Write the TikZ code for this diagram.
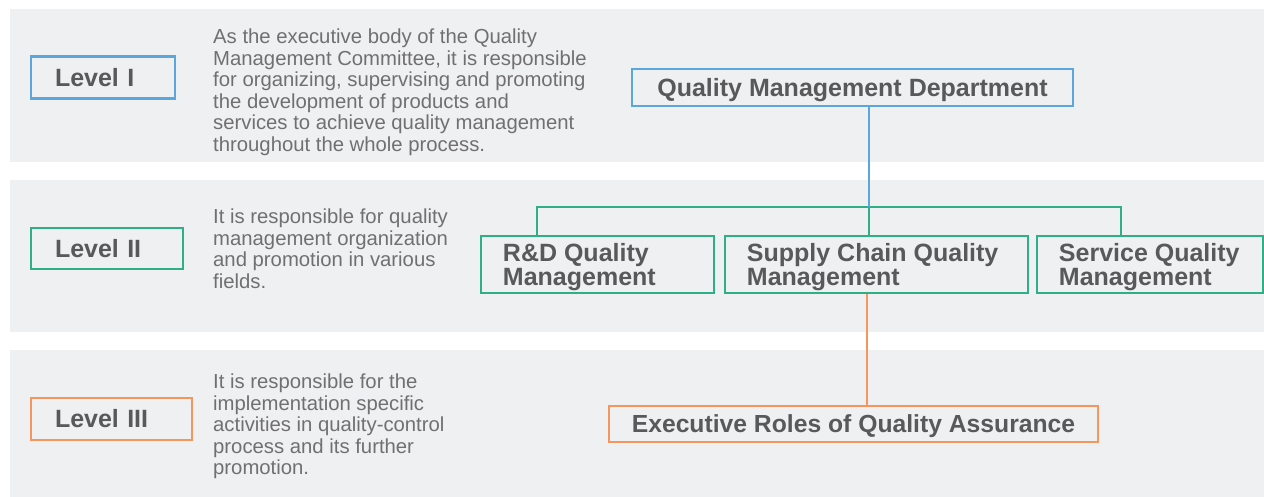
\documentclass[tikz,border=0pt]{standalone}
\usepackage{fontspec}
\usetikzlibrary{calc}
\setmainfont{Liberation Sans}
\definecolor{bandgray}{HTML}{EFF0F2}
\definecolor{lblue}{HTML}{5AA7DD}
\definecolor{lgreen}{HTML}{2EAF86}
\definecolor{lorange}{HTML}{F7955F}
\definecolor{tdark}{HTML}{58595B}
\definecolor{tgray}{HTML}{707070}
\begin{document}
\begin{tikzpicture}[x=1pt,y=-1pt,
  band/.style={fill=bandgray,draw=none},
  lvl/.style={draw=#1,line width=2.5pt,fill=bandgray,text=tdark,inner ysep=0pt,inner xsep=24pt,
     align=left,font=\fontsize{25}{26}\selectfont\bfseries},
  desc/.style={anchor=north west,inner sep=0pt,align=left,text=tgray,font=\fontsize{20.3}{21.5}\selectfont},
  onebox/.style={draw=#1,line width=2.5pt,fill=bandgray,text=tdark,inner sep=0pt,align=center,
     text depth=1pt,font=\fontsize{25}{26}\selectfont\bfseries},
  twobox/.style={draw=#1,line width=2.5pt,fill=bandgray,inner sep=0pt},
  twotext/.style={anchor=north west,inner sep=0pt,align=left,text=tdark,
     font=\fontsize{25}{22}\selectfont\bfseries},
  conn/.style={draw=#1,line width=2.5pt}]
\useasboundingbox (0,0) rectangle (1264,497);
\fill[white] (0,0) rectangle (1264,497);
% bands
\path[band] (10,9) rectangle (1264,162);
\path[band] (10,180) rectangle (1264,332);
\path[band] (10,350) rectangle (1264,497);
% level labels
\node[lvl=lblue,minimum width=144pt,minimum height=42pt,text width=96pt] (l1) at (103,77.5) {Level I};
\node[lvl=lgreen,minimum width=152pt,minimum height=41pt,text width=104pt] (l2) at (107,248.5) {Level II};
\node[lvl=lorange,minimum width=161pt,minimum height=42pt,text width=113pt] (l3) at (111.5,419) {Level III};
% descriptions
\node[desc] (d1) at (213,29) {As the executive body of the Quality\\Management Committee, it is responsible\\for organizing, supervising and promoting\\the development of products and\\services to achieve quality management\\throughout the whole process.};
\node[desc] (d2) at (213,209) {It is responsible for quality\\management organization\\and promotion in various\\fields.};
\node[desc] (d3) at (213,374) {It is responsible for the\\implementation specific\\activities in quality-control\\process and its further\\promotion.};
% org boxes
\node[onebox=lblue,minimum width=441pt,minimum height=37pt] (qmd) at (852.5,87.5) {Quality Management Department};
\node[twobox=lgreen,minimum width=233pt,minimum height=57pt] (rd) at (597.5,264.5) {};
\node[twobox=lgreen,minimum width=303pt,minimum height=57pt] (sc) at (876.5,264.5) {};
\node[twobox=lgreen,minimum width=226pt,minimum height=57pt] (sv) at (1150,264.5) {};
\node[twotext] (rdt) at ($(rd.north west)+(23,8.75)$) {R\&D Quality\\Management};
\node[twotext] (sct) at ($(sc.north west)+(23,8.75)$) {Supply Chain Quality\\Management};
\node[twotext] (svt) at ($(sv.north west)+(23,8.75)$) {Service Quality\\Management};
\node[onebox=lorange,minimum width=489pt,minimum height=36pt,font=\fontsize{24.7}{26}\selectfont\bfseries] (ex) at (853.5,424) {Executive Roles of Quality Assurance};
% connectors
\coordinate (J) at (869,207);
\coordinate (Lg) at (537,207);
\coordinate (Rg) at (1121,207);
\coordinate (O) at (867,300);
\draw[conn=lgreen] (Lg |- rd.north) -- (Lg) -- (Rg) -- (Rg |- sv.north);
\draw[conn=lgreen] (J) -- (J |- sc.north);
\draw[conn=lblue] (J |- qmd.south) -- (J);
\draw[conn=lorange] (O |- sc.south) -- (O |- ex.north);
\end{tikzpicture}
\end{document}
